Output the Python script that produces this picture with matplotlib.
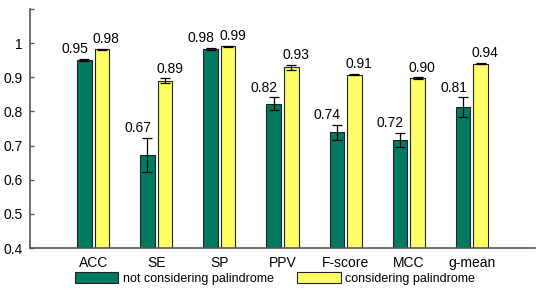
import matplotlib
matplotlib.use("Agg")
import matplotlib.pyplot as plt
import numpy as np

categories = ["ACC", "SE", "SP", "PPV", "F-score", "MCC", "g-mean"]
not_pal = [0.951, 0.673, 0.983, 0.822, 0.739, 0.717, 0.813]
not_pal_err = [0.002, 0.050, 0.002, 0.019, 0.022, 0.020, 0.028]
pal = [0.982, 0.890, 0.991, 0.929, 0.908, 0.898, 0.940]
pal_err = [0.002, 0.007, 0.002, 0.008, 0.002, 0.002, 0.002]
not_pal_labels = ["0.95", "0.67", "0.98", "0.82", "0.74", "0.72", "0.81"]
pal_labels = ["0.98", "0.89", "0.99", "0.93", "0.91", "0.90", "0.94"]
series_names = ["not considering palindrome", "considering palindrome"]

plt.rcParams['font.family'] = ['Liberation Sans', 'DejaVu Sans']
fs = 10
lfs = 9

fig = plt.figure(figsize=(5.4, 3.06), dpi=100)
ax = fig.add_axes([30/540, 1-248/306, (535-30)/540, (248-9)/306])

x = np.arange(1, len(categories) + 1)
w = 0.23
off = 0.14
green = "#007a60"
yellow = "#ffff66"
b1 = ax.bar(x - off, not_pal, w, color=green, edgecolor="#222222", linewidth=0.8,
            label=series_names[0], zorder=2)
b2 = ax.bar(x + off, pal, w, color=yellow, edgecolor="#222222", linewidth=0.8,
            label=series_names[1], zorder=2)
ax.errorbar(x - off, not_pal, yerr=not_pal_err, fmt="none", ecolor="black", elinewidth=0.9,
            capsize=3.3, capthick=0.9, zorder=3)
ax.errorbar(x + off, pal, yerr=pal_err, fmt="none", ecolor="black", elinewidth=0.9,
            capsize=3.3, capthick=0.9, zorder=3)

for xi, v, e, t in zip(x, not_pal, not_pal_err, not_pal_labels):
    ax.annotate(t, (xi - 0.29, v + e), xytext=(0, 2), textcoords="offset points",
                ha="center", va="bottom", fontsize=fs)
for xi, v, e, t in zip(x, pal, pal_err, pal_labels):
    ax.annotate(t, (xi + 0.21, v + e), xytext=(0, 2), textcoords="offset points",
                ha="center", va="bottom", fontsize=fs)

ax.set_xlim(0, 8)
ax.set_ylim(0.4, 1.1)
ax.set_xticks(x)
ax.set_xticklabels(categories, fontsize=fs)
yt = [0.4, 0.5, 0.6, 0.7, 0.8, 0.9, 1.0, 1.1]
ax.set_yticks(yt)
ax.set_yticklabels(["0.4", "0.5", "0.6", "0.7", "0.8", "0.9", "1", ""], fontsize=fs)
ax.tick_params(axis="x", length=0, pad=6)
ax.tick_params(axis="y", direction="in", length=3, width=1, color="#555555", pad=5)
for s in ["top", "right"]:
    ax.spines[s].set_visible(False)
for s in ["left", "bottom"]:
    ax.spines[s].set_color("#555555")
    ax.spines[s].set_linewidth(1.2)

fig.legend(handles=[b1, b2], labels=series_names, loc="center",
           bbox_to_anchor=(275/540, 1-278.5/306), ncol=2, frameon=False, fontsize=lfs,
           handlelength=3.45, handleheight=0.93, handletextpad=0.35, columnspacing=1.9,
           borderpad=0)

fig.savefig("out.png", dpi=100)
